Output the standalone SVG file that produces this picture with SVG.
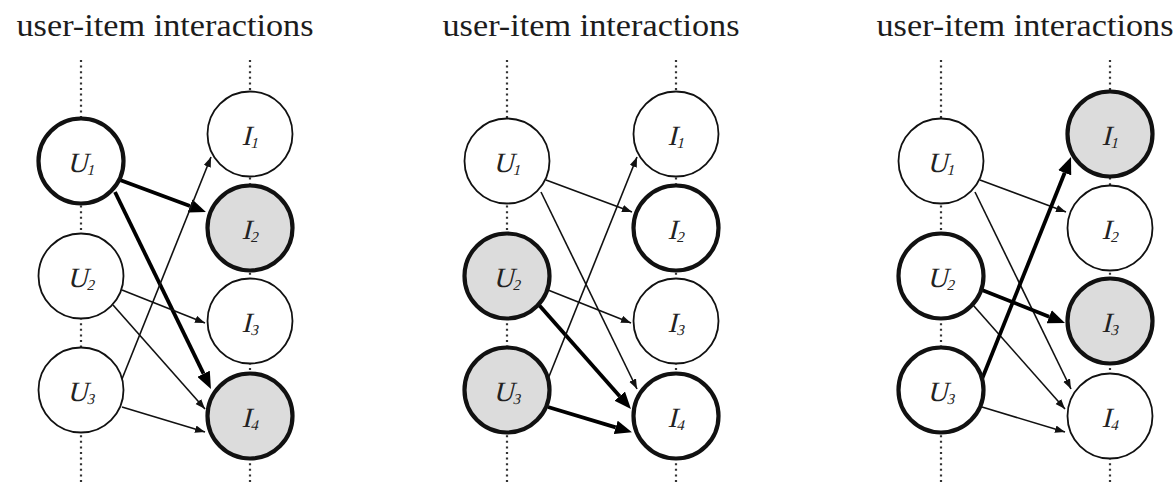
<svg xmlns="http://www.w3.org/2000/svg" width="1176" height="482" viewBox="0 0 1176 482">
<style>
.title{font-family:"Liberation Serif","Times New Roman",serif;font-size:31px;fill:#1c1c1c}
.lbl{font-family:"Liberation Serif","Times New Roman",serif;font-size:28px;fill:#222;text-anchor:middle}
.sub{font-size:15px}
.dot{stroke:#333;stroke-width:2.2;stroke-dasharray:2 3.6;fill:none}
.n{fill:#fff;stroke:#111;stroke-width:1.8}
.b{stroke-width:4.2}
.g{fill:#dcdcdc}
.e{stroke:#111;stroke-width:1.6;fill:none;marker-end:url(#ah)}
.t{stroke:#000;stroke-width:3.8;fill:none;marker-end:url(#ahb)}
</style>
<defs>
<marker id="ah" markerUnits="userSpaceOnUse" markerWidth="11" markerHeight="8" refX="10" refY="3.75" orient="auto"><path d="M0,0 L10,3.75 L0,7.5 z" fill="#111"/></marker>
<marker id="ahb" markerUnits="userSpaceOnUse" markerWidth="17" markerHeight="14" refX="0" refY="7" orient="auto"><path d="M0,0 L17,7 L0,14 z" fill="#000"/></marker>
</defs>
<rect width="1176" height="482" fill="#fff"/>

<!-- Panel 1 -->
<g id="panel1">
<text class="title" x="165" y="36" text-anchor="middle" textLength="297" lengthAdjust="spacingAndGlyphs">user-item interactions</text>
<line class="dot" x1="81" y1="60" x2="81" y2="482"/>
<line class="dot" x1="250" y1="60" x2="250" y2="482"/>
<g id="p1-edges">
<line class="t" x1="120" y1="180" x2="190" y2="206"/>
<line class="t" x1="115" y1="192" x2="203.5" y2="373.7"/>
<line class="e" x1="122" y1="290" x2="205" y2="323"/>
<line class="e" x1="113" y1="305" x2="205" y2="409"/>
<line class="e" x1="122" y1="379" x2="211" y2="157"/>
<line class="e" x1="122" y1="407" x2="205" y2="432"/>
</g>
<g id="p1-U1"><circle class="n b" cx="81" cy="161" r="42.5"/><text class="lbl" transform="translate(81,172) skewX(-14)">U<tspan class="sub" dy="3">1</tspan></text></g>
<g id="p1-U2"><circle class="n" cx="81" cy="276" r="42.5"/><text class="lbl" transform="translate(81,287) skewX(-14)">U<tspan class="sub" dy="3">2</tspan></text></g>
<g id="p1-U3"><circle class="n" cx="81" cy="390" r="42.5"/><text class="lbl" transform="translate(81,401) skewX(-14)">U<tspan class="sub" dy="3">3</tspan></text></g>
<g id="p1-I1"><circle class="n" cx="250" cy="134" r="42.5"/><text class="lbl" transform="translate(250,145) skewX(-14)">I<tspan class="sub" dy="3">1</tspan></text></g>
<g id="p1-I2"><circle class="n b g" cx="250" cy="228" r="42.5"/><text class="lbl" transform="translate(250,239) skewX(-14)">I<tspan class="sub" dy="3">2</tspan></text></g>
<g id="p1-I3"><circle class="n" cx="250" cy="321" r="42.5"/><text class="lbl" transform="translate(250,332) skewX(-14)">I<tspan class="sub" dy="3">3</tspan></text></g>
<g id="p1-I4"><circle class="n b g" cx="250" cy="416" r="42.5"/><text class="lbl" transform="translate(250,427) skewX(-14)">I<tspan class="sub" dy="3">4</tspan></text></g>
</g>

<!-- Panel 2 -->
<g id="panel2" transform="translate(426,0)">
<text class="title" x="165" y="36" text-anchor="middle" textLength="297" lengthAdjust="spacingAndGlyphs">user-item interactions</text>
<line class="dot" x1="81" y1="60" x2="81" y2="482"/>
<line class="dot" x1="250" y1="60" x2="250" y2="482"/>
<g id="p2-edges">
<line class="e" x1="120" y1="180" x2="206" y2="212"/>
<line class="e" x1="115" y1="192" x2="211" y2="389"/>
<line class="e" x1="122" y1="290" x2="205" y2="323"/>
<line class="t" x1="113" y1="305" x2="193.7" y2="396.2"/>
<line class="e" x1="122" y1="379" x2="211" y2="157"/>
<line class="t" x1="122" y1="407" x2="189.7" y2="427.4"/>
</g>
<g id="p2-U1"><circle class="n" cx="81" cy="161" r="42.5"/><text class="lbl" transform="translate(81,172) skewX(-14)">U<tspan class="sub" dy="3">1</tspan></text></g>
<g id="p2-U2"><circle class="n b g" cx="81" cy="276" r="42.5"/><text class="lbl" transform="translate(81,287) skewX(-14)">U<tspan class="sub" dy="3">2</tspan></text></g>
<g id="p2-U3"><circle class="n b g" cx="81" cy="390" r="42.5"/><text class="lbl" transform="translate(81,401) skewX(-14)">U<tspan class="sub" dy="3">3</tspan></text></g>
<g id="p2-I1"><circle class="n" cx="250" cy="134" r="42.5"/><text class="lbl" transform="translate(250,145) skewX(-14)">I<tspan class="sub" dy="3">1</tspan></text></g>
<g id="p2-I2"><circle class="n b" cx="250" cy="228" r="42.5"/><text class="lbl" transform="translate(250,239) skewX(-14)">I<tspan class="sub" dy="3">2</tspan></text></g>
<g id="p2-I3"><circle class="n" cx="250" cy="321" r="42.5"/><text class="lbl" transform="translate(250,332) skewX(-14)">I<tspan class="sub" dy="3">3</tspan></text></g>
<g id="p2-I4"><circle class="n b" cx="250" cy="416" r="42.5"/><text class="lbl" transform="translate(250,427) skewX(-14)">I<tspan class="sub" dy="3">4</tspan></text></g>
</g>

<!-- Panel 3 -->
<g id="panel3" transform="translate(860,0)">
<text class="title" x="165" y="36" text-anchor="middle" textLength="297" lengthAdjust="spacingAndGlyphs">user-item interactions</text>
<line class="dot" x1="81" y1="60" x2="81" y2="482"/>
<line class="dot" x1="250" y1="60" x2="250" y2="482"/>
<g id="p3-edges">
<line class="e" x1="120" y1="180" x2="206" y2="212"/>
<line class="e" x1="115" y1="192" x2="211" y2="389"/>
<line class="t" x1="122" y1="290" x2="189.2" y2="316.7"/>
<line class="e" x1="113" y1="305" x2="205" y2="409"/>
<line class="t" x1="122" y1="379" x2="204.7" y2="172.8"/>
<line class="e" x1="122" y1="407" x2="205" y2="432"/>
</g>
<g id="p3-U1"><circle class="n" cx="81" cy="161" r="42.5"/><text class="lbl" transform="translate(81,172) skewX(-14)">U<tspan class="sub" dy="3">1</tspan></text></g>
<g id="p3-U2"><circle class="n b" cx="81" cy="276" r="42.5"/><text class="lbl" transform="translate(81,287) skewX(-14)">U<tspan class="sub" dy="3">2</tspan></text></g>
<g id="p3-U3"><circle class="n b" cx="81" cy="390" r="42.5"/><text class="lbl" transform="translate(81,401) skewX(-14)">U<tspan class="sub" dy="3">3</tspan></text></g>
<g id="p3-I1"><circle class="n b g" cx="250" cy="134" r="42.5"/><text class="lbl" transform="translate(250,145) skewX(-14)">I<tspan class="sub" dy="3">1</tspan></text></g>
<g id="p3-I2"><circle class="n" cx="250" cy="228" r="42.5"/><text class="lbl" transform="translate(250,239) skewX(-14)">I<tspan class="sub" dy="3">2</tspan></text></g>
<g id="p3-I3"><circle class="n b g" cx="250" cy="321" r="42.5"/><text class="lbl" transform="translate(250,332) skewX(-14)">I<tspan class="sub" dy="3">3</tspan></text></g>
<g id="p3-I4"><circle class="n" cx="250" cy="416" r="42.5"/><text class="lbl" transform="translate(250,427) skewX(-14)">I<tspan class="sub" dy="3">4</tspan></text></g>
</g>
</svg>
